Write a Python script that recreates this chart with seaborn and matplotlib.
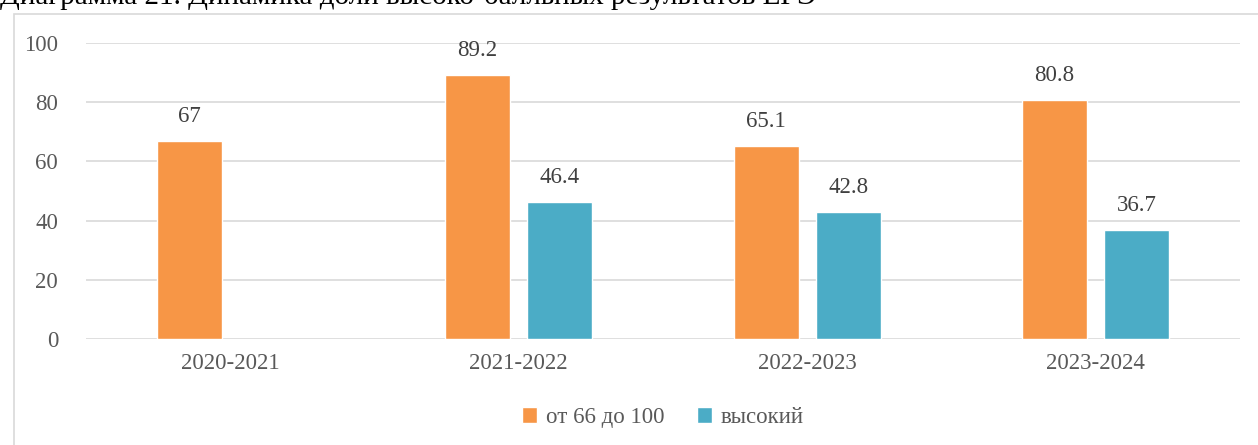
import numpy as np
import pandas as pd
import matplotlib.pyplot as plt
import seaborn as sns
from matplotlib.patches import Rectangle

# data
years = ["2020-2021", "2021-2022", "2022-2023", "2023-2024"]
share_66_100 = [67, 89.2, 65.1, 80.8]
share_high = [np.nan, 46.4, 42.8, 36.7]
series_names = ["от 66 до 100", "высокий"]

df = pd.DataFrame({
    "year": years * 2,
    "value": share_66_100 + share_high,
    "series": [series_names[0]] * 4 + [series_names[1]] * 4,
})

sns.set_theme(style="white")
plt.rcParams['font.family'] = ['Liberation Serif', 'DejaVu Serif']
gray = "#595959"
fs = 16.5

fig = plt.figure(figsize=(12.58, 4.45), dpi=100)
# chart frame
fig.patches.append(Rectangle((14 / 1258, -0.05), 1.1, 0.05 + (445 - 14) / 445,
                             transform=fig.transFigure, fill=False,
                             edgecolor="#D9D9D9", linewidth=1.2))
fig.text(0.0, 1 - 4 / 445, "Диаграмма 21. Динамика доли высоко-балльных результатов ЕГЭ",
         fontsize=21, color="black", va="baseline", ha="left")

ax = fig.add_axes([86 / 1258, 106 / 445, 1154 / 1258, 296 / 445])
sns.barplot(data=df, x="year", y="value", hue="series", ax=ax,
            palette=["#F79646", "#4BACC6"], width=0.57, gap=0.21,
            saturation=1, legend=True)

for c in ax.containers:
    ax.bar_label(c, fmt="%g", padding=10, fontsize=fs, color="#404040")

ax.set_ylim(0, 100)
ax.set_yticks(range(0, 101, 20))
ax.yaxis.grid(True, color="#D9D9D9", linewidth=1.2)
ax.set_axisbelow(True)
for s in ax.spines.values():
    s.set_visible(False)
ax.tick_params(axis="y", length=0, pad=20, labelsize=fs, labelcolor=gray)
ax.tick_params(axis="x", length=0, pad=10, labelsize=fs, labelcolor=gray)
ax.set_xlabel("")
ax.set_ylabel("")

ax.legend(loc="upper center", bbox_to_anchor=(0.5, -0.16), ncol=2, frameon=False,
          fontsize=fs, labelcolor=gray, handlelength=0.65, handleheight=0.65,
          handletextpad=0.4, columnspacing=1.4)

fig.savefig("out.png", dpi=100)
